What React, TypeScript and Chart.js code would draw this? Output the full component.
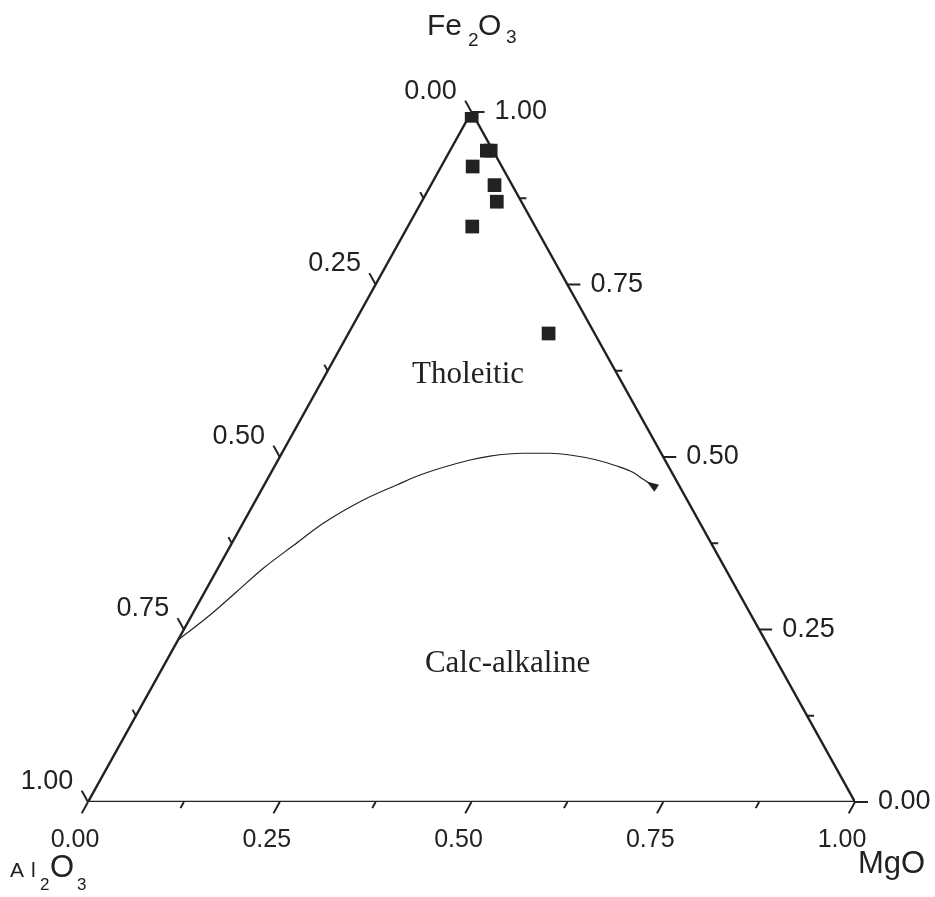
import React, { useEffect, useRef } from "react";
import { Chart, registerables } from "chart.js";

Chart.register(...registerables);

// ---- axis ticks ----
const axisTickValues = [0, 0.25, 0.5, 0.75, 1];
const axisTickLabels = ["0.00", "0.25", "0.50", "0.75", "1.00"];
const minorTickValues = [0.125, 0.375, 0.625, 0.875];

// ---- samples (fractions) ----
const sampleFe2O3 = [0.9945, 0.944, 0.944, 0.921, 0.894, 0.870, 0.834, 0.679];
const sampleMgO = [0.003, 0.048, 0.053, 0.041, 0.083, 0.098, 0.084, 0.261];
const sampleAl2O3 = [0.0025, 0.008, 0.003, 0.038, 0.023, 0.032, 0.082, 0.060];

// ---- tholeiitic / calc-alkaline boundary ----
const boundaryFe2O3 = [0.2348, 0.271, 0.3048, 0.3387, 0.3717, 0.4039, 0.4377, 0.4594, 0.4739, 0.4957, 0.5014, 0.5054, 0.5054, 0.5029, 0.4957, 0.4870, 0.4775, 0.4677, 0.4546];
const boundaryMgO = [0.0, 0.0236, 0.0415, 0.0592, 0.0818, 0.1048, 0.1401, 0.1728, 0.1959, 0.2502, 0.2734, 0.3149, 0.3497, 0.3769, 0.4154, 0.4459, 0.4722, 0.4901, 0.5141];

// ---- field labels ----
const regionLabels = ["Tholeitic", "Calc-alkaline"];
const regionFe2O3 = [0.607, 0.188];
const regionMgO = [0.192, 0.453];

// vertices (Fe2O3, MgO) : Al2O3 corner, MgO corner, Fe2O3 corner
const vertexFe2O3 = [0, 0, 1, 0];
const vertexMgO = [0, 1, 0, 0];

const INK = "#222222";

function toXY(fe: number, mg: number) {
  return { x: mg + fe / 2, y: fe };
}

const ternaryPlugin = {
  id: "ternaryDecor",
  afterDatasetsDraw(chart: any) {
    const ctx = chart.ctx as CanvasRenderingContext2D;
    const xs = chart.scales.x;
    const ys = chart.scales.y;
    const px = (fe: number, mg: number) => {
      const p = toXY(fe, mg);
      return { x: xs.getPixelForValue(p.x), y: ys.getPixelForValue(p.y) };
    };
    const BL = px(0, 0);
    const BR = px(0, 1);
    const T = px(1, 0);
    const unit = (a: any, b: any) => {
      const dx = b.x - a.x;
      const dy = b.y - a.y;
      const l = Math.hypot(dx, dy);
      return { x: dx / l, y: dy / l };
    };
    const leftDir = unit(BR, T); // up-left
    const bottomDir = unit(T, BL); // down-left
    const rightDir = { x: 1, y: 0 };

    ctx.save();
    ctx.strokeStyle = INK;
    ctx.fillStyle = INK;
    ctx.lineWidth = 2;
    ctx.lineCap = "butt";

    const tick = (p: any, d: any, len: number) => {
      ctx.beginPath();
      ctx.moveTo(p.x, p.y);
      ctx.lineTo(p.x + d.x * len, p.y + d.y * len);
      ctx.stroke();
    };

    // left axis: Al2O3 (0 at top, 1 at bottom)
    const leftPt = (a: number) => px(1 - a, 0);
    // right axis: Fe2O3 (1 at top, 0 at bottom)
    const rightPt = (f: number) => px(f, 1 - f);
    // bottom axis: MgO (0 at left, 1 at right)
    const bottomPt = (m: number) => px(0, m);

    axisTickValues.forEach((v) => {
      tick(leftPt(v), leftDir, 13);
      tick(rightPt(v), rightDir, 13);
      tick(bottomPt(v), bottomDir, 13);
    });
    minorTickValues.forEach((v) => {
      tick(leftPt(v), leftDir, 7);
      tick(rightPt(v), rightDir, 7);
      tick(bottomPt(v), bottomDir, 7);
    });

    ctx.textBaseline = "alphabetic";
    ctx.font = "27px 'Liberation Sans', Arial, sans-serif";
    axisTickValues.forEach((v, i) => {
      const l = leftPt(v);
      ctx.textAlign = "center";
      ctx.fillText(axisTickLabels[i], l.x - 41, l.y - 13.5);
      const r = rightPt(v);
      ctx.textAlign = "left";
      ctx.fillText(axisTickLabels[i], r.x + 23, r.y + 7);
    });
    ctx.font = "25px 'Liberation Sans', Arial, sans-serif";
    ctx.textAlign = "center";
    axisTickValues.forEach((v, i) => {
      const b = bottomPt(v);
      ctx.fillText(axisTickLabels[i], b.x - 13, b.y + 45);
    });

    // axis titles
    ctx.textAlign = "left";
    const txt = (s: string, size: number, x: number, y: number) => {
      ctx.font = `${size}px 'Liberation Sans', Arial, sans-serif`;
      ctx.fillText(s, x, y);
    };
    // Fe2O3 at top vertex
    txt("Fe", 30, T.x - 44.5, T.y - 77);
    txt("2", 19, T.x - 3.5, T.y - 66);
    txt("O", 30, T.x + 6.5, T.y - 77);
    txt("3", 19, T.x + 34.5, T.y - 69);
    // Al2O3 at bottom-left vertex
    txt("A", 21, BL.x - 78, BL.y + 75);
    txt("l", 21, BL.x - 57, BL.y + 75);
    txt("2", 17, BL.x - 48, BL.y + 88);
    txt("O", 31, BL.x - 38, BL.y + 75);
    txt("3", 17, BL.x - 11, BL.y + 88);
    // MgO at bottom-right vertex
    txt("MgO", 31, BR.x + 3, BR.y + 71);

    // field labels
    ctx.font = "31px 'Liberation Serif', 'Times New Roman', serif";
    ctx.textAlign = "center";
    regionLabels.forEach((s, i) => {
      const p = px(regionFe2O3[i], regionMgO[i]);
      ctx.fillText(s, p.x, p.y);
    });

    // arrow head at the end of the boundary curve
    const n = boundaryFe2O3.length;
    const end = px(boundaryFe2O3[n - 1], boundaryMgO[n - 1]);
    const prev = px(boundaryFe2O3[n - 2], boundaryMgO[n - 2]);
    const d = unit(prev, end);
    const perp = { x: -d.y, y: d.x };
    ctx.beginPath();
    ctx.moveTo(end.x - d.x * 12, end.y - d.y * 12);
    ctx.lineTo(end.x + perp.x * 4.2, end.y + perp.y * 4.2);
    ctx.lineTo(end.x - perp.x * 4.2, end.y - perp.y * 4.2);
    ctx.closePath();
    ctx.fill();

    ctx.restore();
  },
};

export default function App() {
  const ref = useRef<HTMLCanvasElement | null>(null);

  useEffect(() => {
    if (!ref.current) return;
    const samples = sampleFe2O3.map((fe, i) => toXY(fe, sampleMgO[i]));
    const boundary = boundaryFe2O3.map((fe, i) => toXY(fe, boundaryMgO[i]));
    const frame = vertexFe2O3.map((fe, i) => toXY(fe, vertexMgO[i]));
    void sampleAl2O3;

    const chart = new Chart(ref.current, {
      type: "scatter",
      data: {
        datasets: [
          {
            label: "Samples",
            data: samples,
            pointStyle: "rect",
            pointRadius: 9.7,
            pointBorderWidth: 0,
            backgroundColor: INK,
            borderColor: INK,
            showLine: false,
          },
          {
            label: "Boundary",
            data: boundary,
            showLine: true,
            borderColor: INK,
            borderWidth: 1.2,
            pointRadius: 0,
            cubicInterpolationMode: "monotone",
            fill: false,
          },
          {
            label: "Frame",
            data: frame,
            showLine: true,
            borderColor: INK,
            borderWidth: 2.4,
            pointRadius: 0,
            tension: 0,
            fill: false,
          },
        ],
      },
      options: {
        responsive: false,
        animation: false,
        devicePixelRatio: 1,
        events: [],
        layout: { padding: { left: 88, right: 80, top: 112, bottom: 95 } },
        scales: {
          x: { type: "linear", min: 0, max: 1, display: false },
          y: { type: "linear", min: 0, max: 1, display: false },
        },
        plugins: {
          legend: { display: false },
          tooltip: { enabled: false },
        },
      },
      plugins: [ternaryPlugin],
    });
    return () => chart.destroy();
  }, []);

  return (
    <div style={{ position: "fixed", left: 0, top: 0, width: 935, height: 897, background: "#fff" }}>
      <canvas ref={ref} width={935} height={897} style={{ width: 935, height: 897, display: "block" }} />
    </div>
  );
}
